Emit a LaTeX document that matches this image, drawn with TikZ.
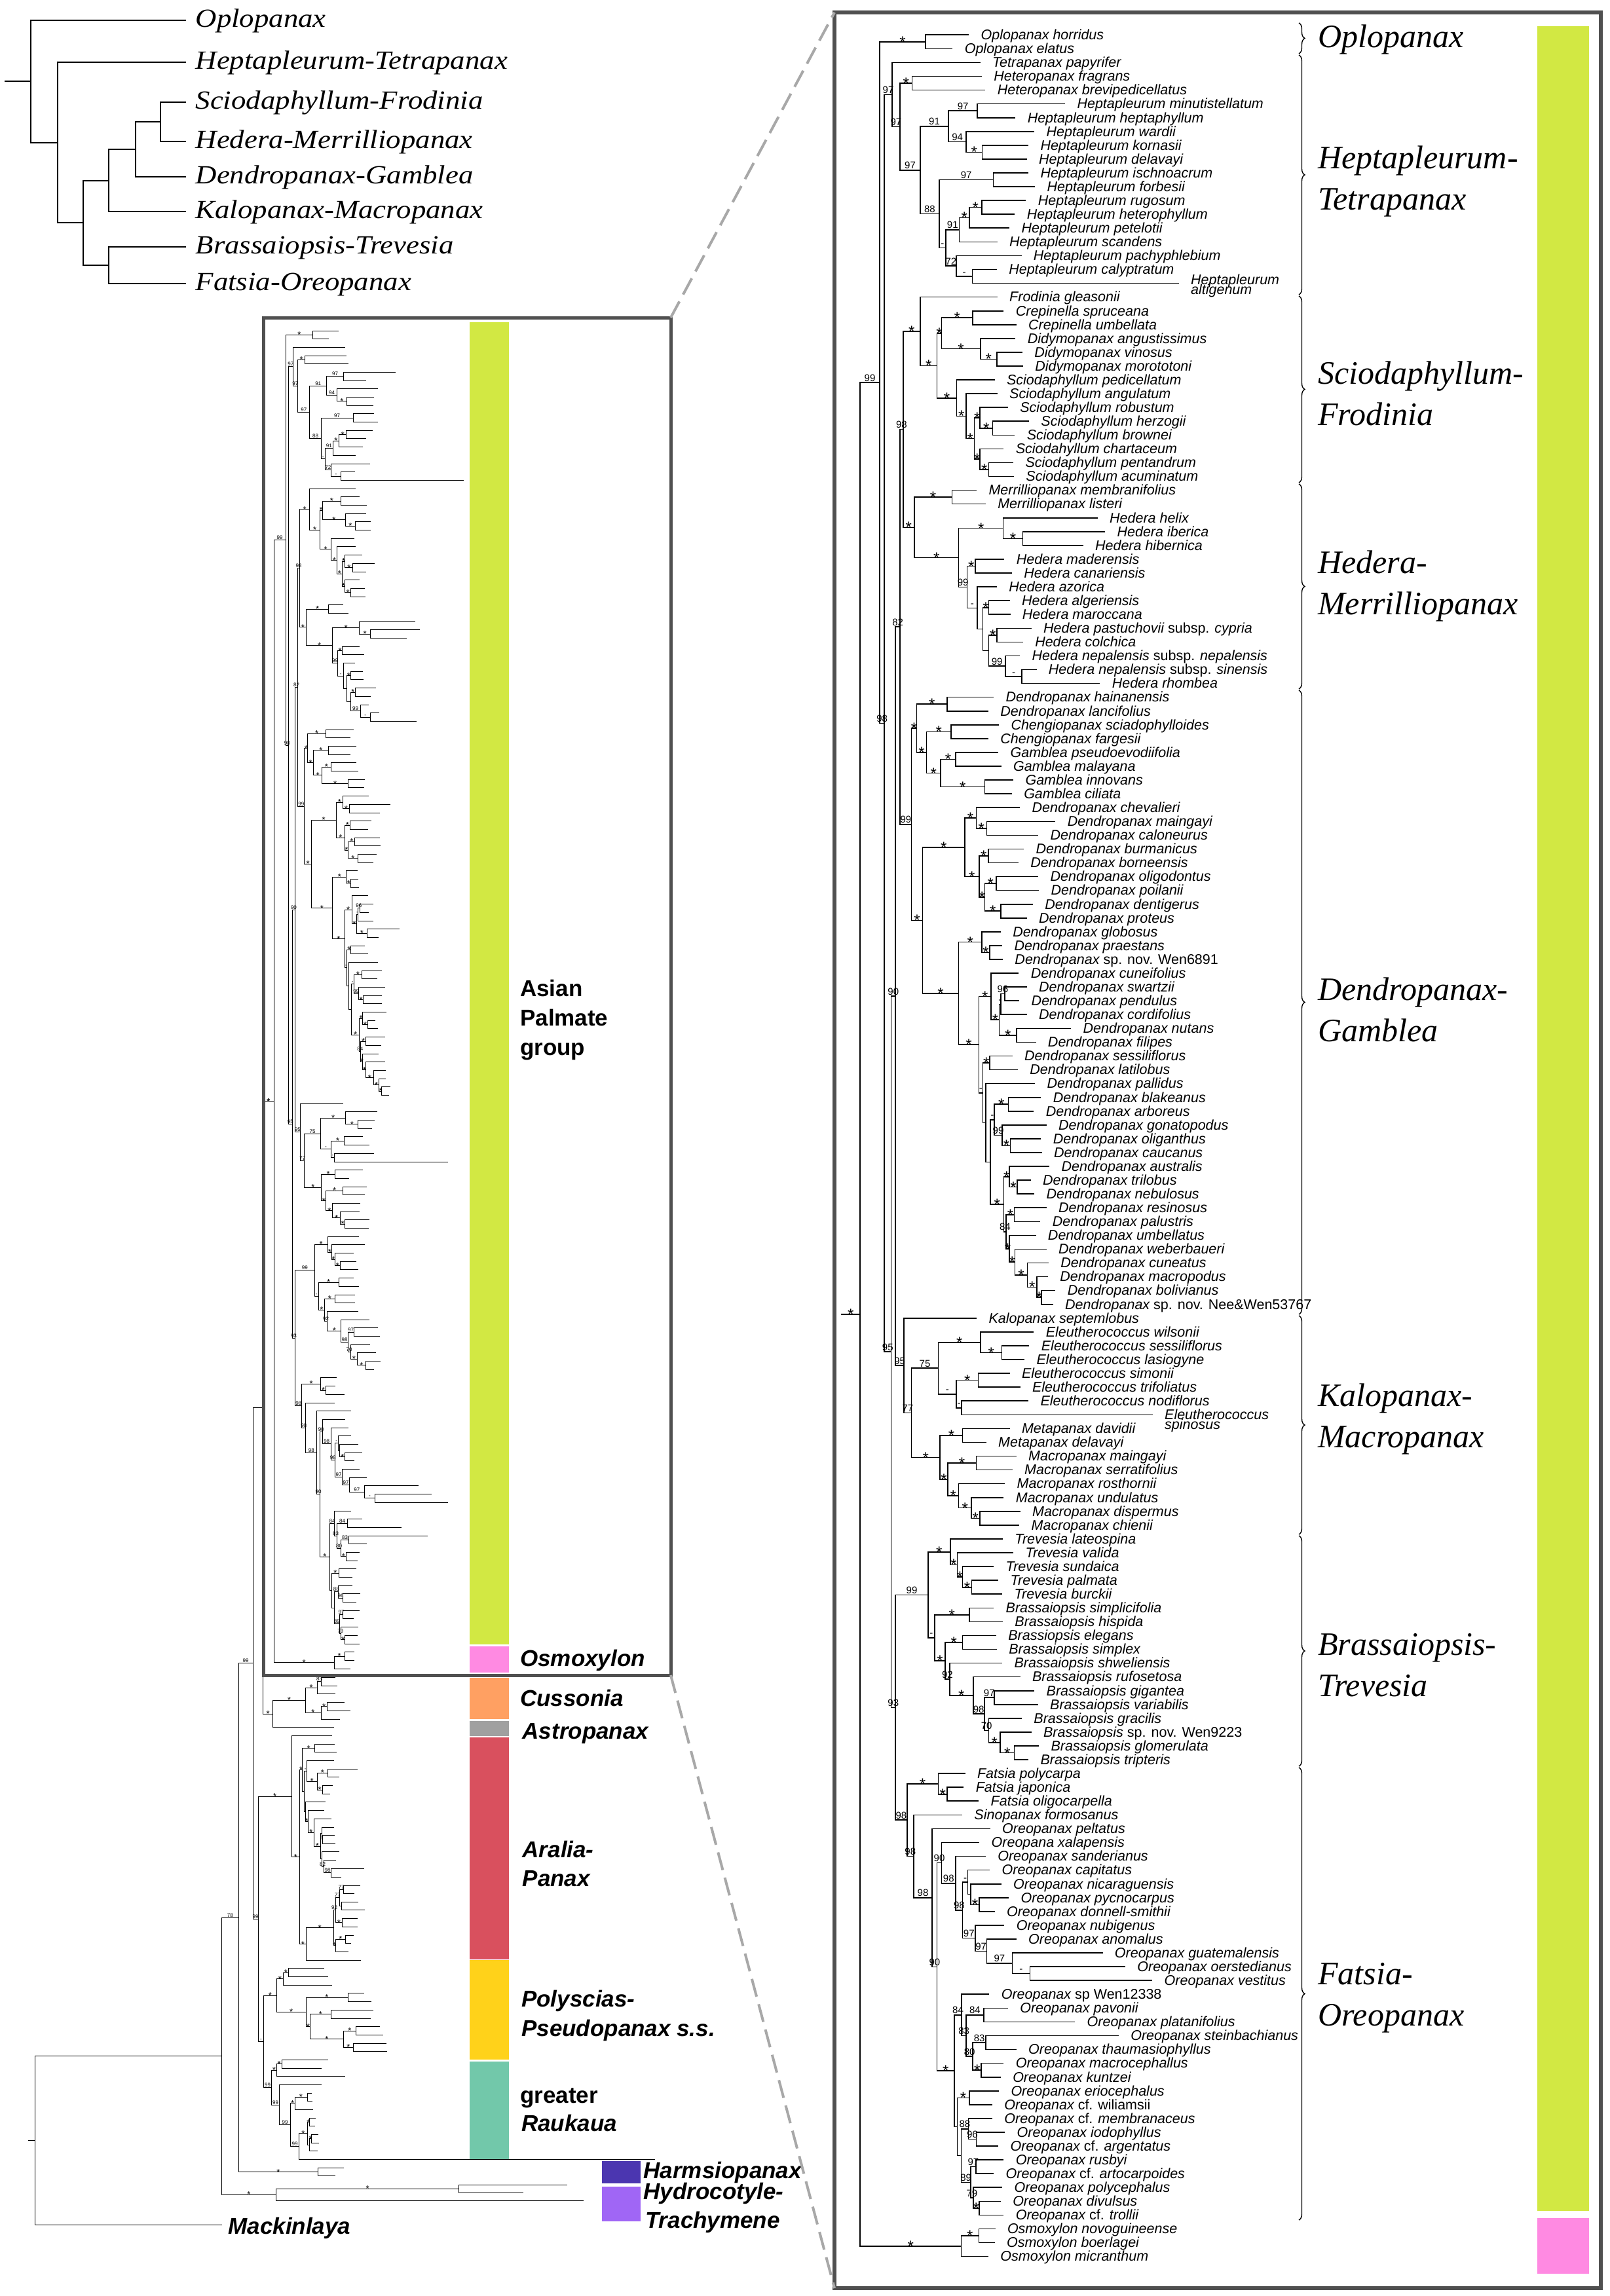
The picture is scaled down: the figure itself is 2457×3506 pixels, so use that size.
\documentclass[tikz,border=0pt]{standalone}
\usepackage{fontspec}
\setmainfont{Liberation Sans}
\newfontfamily\sansf{Liberation Sans}
\newfontfamily\serifw[FakeStretch=1.12]{Liberation Serif}
\newfontfamily\seriff{Liberation Serif}
\usetikzlibrary{calc,decorations.pathreplacing}
\definecolor{cBox}{HTML}{505050}
\definecolor{cDash}{HTML}{A8A8A8}
\definecolor{cLime}{HTML}{D2E843}
\definecolor{cPink}{HTML}{FF8AE2}
\definecolor{cOrange}{HTML}{FFA062}
\definecolor{cGrey}{HTML}{A0A0A0}
\definecolor{cRed}{HTML}{D9505E}
\definecolor{cYellow}{HTML}{FFD21A}
\definecolor{cTeal}{HTML}{72C8AA}
\definecolor{cDPurple}{HTML}{4B36B0}
\definecolor{cLPurple}{HTML}{A066F5}
\newif\iflab
\newcommand\up[1]{{\upshape #1}}
\newcommand\Lf[3]{\coordinate (L#1) at (#2,#1);\iflab\node[tax,yshift=-7.3pt] at (L#1) {#3};\fi}
\newcommand\Lff[6]{\coordinate (L#1) at (#2,#1);\iflab\node[tax,yshift=#5] at (L#1) {#3};\node[tax,yshift=#6] at (L#1) {#4};\fi}
\newcommand\In[3]{%
  \foreach \chn/\lbl [count=\k] in {#3}{\ifnum\k=1 \xdef\firstc{\chn}\fi\xdef\lastc{\chn}}%
  \path ($(\firstc)!0.5!(\lastc)$) coordinate (tmp);%
  \coordinate (#1) at (#2,0 |- tmp);%
  \draw[br] (#1 |- \firstc) -- (#1 |- \lastc);%
  \foreach \chn/\lbl in {#3}{\draw[br] (#1 |- \chn) -- node[sup]{\lbl} (\chn);}%
}
\def\TreeSpec{%
\Lf{1}{432}{Oplopanax horridus}
\Lf{2}{378}{Oplopanax elatus}
\Lf{3}{470}{Tetrapanax papyrifer}
\Lf{4}{475}{Heteropanax fragrans}
\Lf{5}{487}{Heteropanax brevipedicellatus}
\Lf{6}{752}{Heptapleurum minutistellatum}
\Lf{7}{587}{Heptapleurum heptaphyllum}
\Lf{8}{650}{Heptapleurum wardii}
\Lf{9}{630}{Heptapleurum kornasii}
\Lf{10}{625}{Heptapleurum delavayi}
\Lf{11}{630}{Heptapleurum ischnoacrum}
\Lf{12}{652}{Heptapleurum forbesii}
\Lf{13}{622}{Heptapleurum rugosum}
\Lf{14}{585}{Heptapleurum heterophyllum}
\Lf{15}{567}{Heptapleurum petelotii}
\Lf{16}{527}{Heptapleurum scandens}
\Lf{17}{607}{Heptapleurum pachyphlebium}
\Lf{18}{525}{Heptapleurum calyptratum}
\Lff{19}{1130}{Heptapleurum}{altigenum}{-2.4pt}{-17.4pt}
\Lf{20}{527}{Frodinia gleasonii}
\Lf{21}{548}{Crepinella spruceana}
\Lf{22}{590}{Crepinella umbellata}
\Lf{23}{587}{Didymopanax angustissimus}
\Lf{24}{610}{Didymopanax vinosus}
\Lf{25}{612}{Didymopanax morototoni}
\Lf{26}{518}{Sciodaphyllum pedicellatum}
\Lf{27}{527}{Sciodaphyllum angulatum}
\Lf{28}{562}{Sciodaphyllum robustum}
\Lf{29}{632}{Sciodaphyllum herzogii}
\Lf{30}{585}{Sciodaphyllum brownei}
\Lf{31}{548}{Sciodahyllum chartaceum}
\Lf{32}{580}{Sciodaphyllum pentandrum}
\Lf{33}{582}{Sciodaphyllum acuminatum}
\Lf{34}{458}{Merrilliopanax membranifolius}
\Lf{35}{488}{Merrilliopanax listeri}
\Lf{36}{860}{Hedera helix}
\Lf{37}{885}{Hedera iberica}
\Lf{38}{812}{Hedera hibernica}
\Lf{39}{550}{Hedera maderensis}
\Lf{40}{575}{Hedera canariensis}
\Lf{41}{525}{Hedera azorica}
\Lf{42}{568}{Hedera algeriensis}
\Lf{43}{570}{Hedera maroccana}
\Lf{44}{640}{Hedera pastuchovii \up{subsp.} cypria}
\Lf{45}{612}{Hedera colchica}
\Lf{46}{602}{Hedera nepalensis \up{subsp.} nepalensis}
\Lf{47}{657}{Hedera nepalensis \up{subsp.} sinensis}
\Lf{48}{868}{Hedera rhombea}
\Lf{49}{515}{Dendropanax hainanensis}
\Lf{50}{497}{Dendropanax lancifolius}
\Lf{51}{532}{Chengiopanax sciadophylloides}
\Lf{52}{497}{Chengiopanax fargesii}
\Lf{53}{530}{Gamblea pseudoevodiifolia}
\Lf{54}{540}{Gamblea malayana}
\Lf{55}{580}{Gamblea innovans}
\Lf{56}{575}{Gamblea ciliata}
\Lf{57}{602}{Dendropanax chevalieri}
\Lf{58}{720}{Dendropanax maingayi}
\Lf{59}{663}{Dendropanax caloneurus}
\Lf{60}{615}{Dendropanax burmanicus}
\Lf{61}{597}{Dendropanax borneensis}
\Lf{62}{663}{Dendropanax oligodontus}
\Lf{63}{665}{Dendropanax poilanii}
\Lf{64}{645}{Dendropanax dentigerus}
\Lf{65}{625}{Dendropanax proteus}
\Lf{66}{538}{Dendropanax globosus}
\Lf{67}{543}{Dendropanax praestans}
\Lf{68}{545}{Dendropanax \up{sp. nov. Wen6891}}
\Lf{69}{598}{Dendropanax cuneifolius}
\Lf{70}{625}{Dendropanax swartzii}
\Lf{71}{600}{Dendropanax pendulus}
\Lf{72}{625}{Dendropanax cordifolius}
\Lf{73}{772}{Dendropanax nutans}
\Lf{74}{655}{Dendropanax filipes}
\Lf{75}{577}{Dendropanax sessiliflorus}
\Lf{76}{595}{Dendropanax latilobus}
\Lf{77}{652}{Dendropanax pallidus}
\Lf{78}{672}{Dendropanax blakeanus}
\Lf{79}{648}{Dendropanax arboreus}
\Lf{80}{690}{Dendropanax gonatopodus}
\Lf{81}{672}{Dendropanax oliganthus}
\Lf{82}{675}{Dendropanax caucanus}
\Lf{83}{700}{Dendropanax australis}
\Lf{84}{638}{Dendropanax trilobus}
\Lf{85}{650}{Dendropanax nebulosus}
\Lf{86}{690}{Dendropanax resinosus}
\Lf{87}{670}{Dendropanax palustris}
\Lf{88}{655}{Dendropanax umbellatus}
\Lf{89}{690}{Dendropanax weberbaueri}
\Lf{90}{697}{Dendropanax cuneatus}
\Lf{91}{695}{Dendropanax macropodus}
\Lf{92}{720}{Dendropanax bolivianus}
\Lf{93}{712}{Dendropanax \up{sp. nov. Nee\&Wen53767}}
\Lf{94}{458}{Kalopanax septemlobus}
\Lf{95}{648}{Eleutherococcus wilsonii}
\Lf{96}{633}{Eleutherococcus sessiliflorus}
\Lf{97}{617}{Eleutherococcus lasiogyne}
\Lf{98}{568}{Eleutherococcus simonii}
\Lf{99}{603}{Eleutherococcus trifoliatus}
\Lf{100}{630}{Eleutherococcus nodiflorus}
\Lff{101}{1043}{Eleutherococcus}{spinosus}{-7.3pt}{-22.6pt}
\Lf{102}{568}{Metapanax davidii}
\Lf{103}{490}{Metapanax delavayi}
\Lf{104}{590}{Macropanax maingayi}
\Lf{105}{577}{Macropanax serratifolius}
\Lf{106}{552}{Macropanax rosthornii}
\Lf{107}{548}{Macropanax undulatus}
\Lf{108}{603}{Macropanax dispermus}
\Lf{109}{600}{Macropanax chienii}
\Lf{110}{545}{Trevesia lateospina}
\Lf{111}{580}{Trevesia valida}
\Lf{112}{515}{Trevesia sundaica}
\Lf{113}{530}{Trevesia palmata}
\Lf{114}{543}{Trevesia burckii}
\Lf{115}{515}{Brassaiopsis simplicifolia}
\Lf{116}{545}{Brassaiopsis hispida}
\Lf{117}{523}{Brassiopsis elegans}
\Lf{118}{525}{Brassaiopsis simplex}
\Lf{119}{543}{Brassaiopsis shweliensis}
\Lf{120}{603}{Brassaiopsis rufosetosa}
\Lf{121}{650}{Brassaiopsis gigantea}
\Lf{122}{662}{Brassaiopsis variabilis}
\Lf{123}{608}{Brassaiopsis gracilis}
\Lf{124}{640}{Brassaiopsis \up{sp. nov. Wen9223}}
\Lf{125}{665}{Brassaiopsis glomerulata}
\Lf{126}{630}{Brassaiopsis tripteris}
\Lf{127}{420}{Fatsia polycarpa}
\Lf{128}{415}{Fatsia japonica}
\Lf{129}{465}{Fatsia oligocarpella}
\Lf{130}{410}{Sinopanax formosanus}
\Lf{131}{503}{Oreopanax peltatus}
\Lf{132}{467}{Oreopana xalapensis}
\Lf{133}{488}{Oreopanax sanderianus}
\Lf{134}{502}{Oreopanax capitatus}
\Lf{135}{540}{Oreopanax nicaraguensis}
\Lf{136}{565}{Oreopanax pycnocarpus}
\Lf{137}{518}{Oreopanax donnell-smithii}
\Lf{138}{550}{Oreopanax nubigenus}
\Lf{139}{590}{Oreopanax anomalus}
\Lf{140}{877}{Oreopanax guatemalensis}
\Lf{141}{952}{Oreopanax oerstedianus}
\Lf{142}{1042}{Oreopanax vestitus}
\Lf{143}{500}{Oreopanax \up{sp Wen12338}}
\Lf{144}{562}{Oreopanax pavonii}
\Lf{145}{785}{Oreopanax platanifolius}
\Lf{146}{930}{Oreopanax steinbachianus}
\Lf{147}{590}{Oreopanax thaumasiophyllus}
\Lf{148}{548}{Oreopanax macrocephallus}
\Lf{149}{538}{Oreopanax kuntzei}
\Lf{150}{532}{Oreopanax eriocephalus}
\Lf{151}{510}{Oreopanax \up{cf. wiliamsii}}
\Lf{152}{510}{Oreopanax \up{cf.} membranaceus}
\Lf{153}{552}{Oreopanax iodophyllus}
\Lf{154}{530}{Oreopanax \up{cf.} argentatus}
\Lf{155}{548}{Oreopanax rusbyi}
\Lf{156}{515}{Oreopanax \up{cf.} artocarpoides}
\Lf{157}{543}{Oreopanax polycephalus}
\Lf{158}{538}{Oreopanax divulsus}
\Lf{159}{548}{Oreopanax \up{cf.} trollii}
\Lf{160}{520}{Osmoxylon novoguineense}
\Lf{161}{518}{Osmoxylon boerlagei}
\Lf{162}{497}{Osmoxylon micranthum}
\In{Op}{290}{L1/{},L2/{}}
\In{E}{245}{L4/{},L5/{}}
\In{G1}{462}{L6/{},L7/{}}
\In{G3}{478}{L9/{},L10/{}}
\In{G2}{425}{L8/{},G3/\st}
\In{G}{366}{G1/97,G2/94}
\In{H1}{515}{L11/{},L12/{}}
\In{H6}{477}{L13/{},L14/{}}
\In{H5}{435}{H6/\st,L15/{}}
\In{H3}{402}{H5/\st,L16/{}}
\In{H7}{445}{L18/{},L19/{}}
\In{H4}{392}{L17/{},H7/-}
\In{H2}{357}{H3/91,H4/72}
\In{H}{335}{H1/97,H2/-}
\In{F}{272}{G/91,H/88}
\In{D}{205}{E/\st,F/97}
\In{C}{178}{L3/{},D/97}
\In{Cre}{447}{L21/{},L22/{}}
\In{Did2}{527}{L24/{},L25/{}}
\In{Did}{472}{L23/{},Did2/\st}
\In{S2}{343}{Cre/\st,Did/\st}
\In{S8}{513}{L29/{},L30/{}}
\In{S6}{470}{L28/{},S8/\st}
\In{S9}{500}{L32/{},L33/{}}
\In{S7}{470}{L31/{},S9/\st}
\In{S5}{452}{S6/\st,S7/\st}
\In{S4}{425}{L27/{},S5/\st}
\In{S3}{393}{L26/{},S4/\st}
\In{S1}{328}{S2/\st,S3/\st}
\In{SF}{272}{L20/{},S1/\st}
\In{Mer}{378}{L34/{},L35/{}}
\In{Hdb}{613}{L37/{},L38/{}}
\In{Hda}{548}{L36/{},Hdb/\st}
\In{Hdc}{455}{L39/{},L40/{}}
\In{Hdf}{500}{L42/{},L43/{}}
\In{Hdh}{527}{L44/{},L45/{}}
\In{Hdk}{610}{L47/{},L48/{}}
\In{Hdj}{555}{L46/{},Hdk/-}
\In{Hdg}{500}{Hdh/\st,Hdj/99}
\In{Hde}{480}{Hdf/\st,Hdg/{}}
\In{Hdd}{462}{L41/{},Hde/{}}
\In{Hd2}{428}{Hdc/\st,Hdd/-}
\In{Hed}{400}{Hda/\st,Hd2/99}
\In{HM}{252}{Mer/\st,Hed/\st}
\In{Nsh}{215}{SF/\st,HM/\st}
\In{Dha}{362}{L49/{},L50/{}}
\In{Che}{375}{L51/{},L52/{}}
\In{Gp}{390}{L53/{},L54/{}}
\In{Gi}{487}{L55/{},L56/{}}
\In{Dgc}{340}{Gp/\st,Gi/\st}
\In{Dgb}{293}{Che/\st,Dgc/\st}
\In{Dga}{260}{Dha/\st,Dgb/\st}
\In{Dchb}{493}{L58/{},L59/{}}
\In{Dch}{458}{L57/{},Dchb/\st}
\In{Dbua}{498}{L60/{},L61/{}}
\In{Dol}{525}{L62/{},L63/{}}
\In{Dde}{540}{L64/{},L65/{}}
\In{Dbub}{487}{Dol/\st,Dde/\st}
\In{Dbu}{468}{Dbua/\st,Dbub/\st}
\In{Dge}{420}{Dch/\st,Dbu/\st}
\In{Dprb}{503}{L67/{},L68/{}}
\In{Dglo}{477}{L66/{},Dprb/\st}
\In{Dns}{553}{L70/{},L71/{}}
\In{Dcuc}{540}{Dns/96,L72/{}}
\In{Dnu}{592}{L73/{},L74/{}}
\In{Dcub}{535}{Dcuc/-,Dnu/\st}
\In{Dcu}{508}{L69/{},Dcub/\st}
\In{Dsea}{503}{L75/{},L76/{}}
\In{Dbl}{565}{L78/{},L79/{}}
\In{Dolg}{572}{L81/{},L82/{}}
\In{Dgo}{545}{L80/{},Dolg/\st}
\In{DblG}{518}{Dbl/\st,Dgo/99}
\In{Dtri}{595}{L84/{},L85/{}}
\In{Daua}{568}{L83/{},Dtri/\st}
\In{Drea}{585}{L86/{},L87/{}}
\In{Dbo}{675}{L92/{},L93/{}}
\In{Dma}{660}{L91/{},Dbo/\st}
\In{Dcun}{628}{L90/{},Dma/\st}
\In{Dwe}{587}{L89/{},Dcun/\st}
\In{Dum}{568}{L88/{},Dwe/\st}
\In{Dre}{558}{Drea/\st,Dum/\st}
\In{Dau}{550}{Daua/\st,Dre/84}
\In{Dpb}{505}{DblG/-,Dau/\st}
\In{Dpa}{490}{L77/{},Dpb/{}}
\In{Dse}{480}{Dsea/\st,Dpa/{}}
\In{Dgg}{467}{Dcu/\st,Dse/-}
\In{Dgf}{400}{Dglo/\st,Dgg/\st}
\In{Dgd}{280}{Dge/\st,Dgf/\st}
\In{Nnn}{243}{Dga/\st,Dgd/\st}
\In{Nei}{205}{Nsh/98,Nnn/99}
\In{Ewb}{543}{L96/{},L97/{}}
\In{Ew}{473}{L95/{},Ewb/\st}
\In{Esa}{465}{L98/{},L99/{}}
\In{Eno}{410}{L100/{},L101/{}}
\In{Esi}{392}{Esa/\st,Eno/-}
\In{Nsf}{332}{Ew/\st,Esi/-}
\In{Meta}{413}{L102/{},L103/{}}
\In{Mab}{458}{L104/{},L105/{}}
\In{Mae}{470}{L108/{},L109/{}}
\In{Mad}{442}{L107/{},Mae/\st}
\In{Mac}{400}{L106/{},Mad/\st}
\In{Maa}{363}{Mab/\st,Mac/\st}
\In{MM}{338}{Meta/\st,Maa/\st}
\In{Nss}{243}{Nsf/75,MM/\st}
\In{Nk}{218}{L94/{},Nss/77}
\In{Nni}{190}{Nei/82,Nk/95}
\In{Trd}{443}{L113/{},L114/{}}
\In{Trc}{413}{L112/{},Trd/\st}
\In{Trb}{395}{L111/{},Trc/\st}
\In{Tra}{372}{L110/{},Trb/\st}
\In{Bsi}{435}{L115/{},L116/{}}
\In{Bela}{413}{L117/{},L118/{}}
\In{Bng}{518}{L121/{},L122/{}}
\In{Bfo}{585}{L125/{},L126/{}}
\In{Bth}{538}{L124/{},Bfo/\st}
\In{Bsv}{500}{L123/{},Bth/\st}
\In{Bne}{485}{Bng/97,Bsv/70}
\In{Btw}{448}{L120/{},Bne/98}
\In{Bnt}{370}{L119/{},Btw/\st}
\In{Bel}{355}{Bela/\st,Bnt/92}
\In{Br}{320}{Bsi/\st,Bel/\st}
\In{BT}{298}{Tra/\st,Br/-}
\In{Fja}{362}{L128/{},L129/{}}
\In{Fat}{332}{L127/{},Fja/\st}
\In{Fcpy}{468}{L136/{},L137/{}}
\In{Fnic}{440}{L135/{},Fcpy/\st}
\In{Fcap}{430}{L134/{},Fnic/{}}
\In{Foe}{637}{L141/{},L142/{}}
\In{Fnc}{578}{L140/{},Foe/-}
\In{Fnb}{493}{L139/{},Fnc/97}
\In{Fna}{455}{L138/{},Fnb/97}
\In{Fne}{413}{Fcap/-,Fna/97}
\In{Fnd}{390}{L133/{},Fne/98}
\In{Fxb}{343}{L132/{},Fnd/98}
\In{Opav}{483}{L144/{},L145/{}}
\In{Oeb}{490}{L146/{},L147/{}}
\In{Omac}{475}{L148/{},L149/{}}
\In{Oei}{447}{Oeb/83,Omac/\st}
\In{Oet}{425}{Opav/84,Oei/80}
\In{Oef}{410}{L143/{},Oet/83}
\In{Oer}{435}{L150/{},L151/{}}
\In{Ons}{458}{L153/{},L154/{}}
\In{Oee}{432}{L152/{},Ons/96}
\In{Ose}{457}{L155/{},L156/{}}
\In{Odiv}{468}{L158/{},L159/{}}
\In{Osn}{448}{L157/{},Odiv/\st}
\In{One}{440}{Ose/97,Osn/79}
\In{Ocd}{408}{Oee/88,One/89}
\In{Occ}{395}{Oer/\st,Ocd/{}}
\In{Oc}{385}{Oef/84,Occ/{}}
\In{Fni}{328}{Fxb/90,Oc/\st}
\In{Fnh}{312}{L131/{},Fni/90}
\In{Fng}{250}{L130/{},Fnh/98}
\In{FO}{228}{Fat/\st,Fng/98}
\In{Nnt}{190}{BT/99,FO/98}
\In{Nnf}{175}{Nni/90,Nnt/93}
\In{Bb}{153}{C/97,Nnf/95}
\In{Aa}{137}{Op/\st,Bb/98}
\In{Osb}{467}{L160/{},L161/{}}
\In{Osm}{408}{Osb/\st,L162/{}}
\In{R}{72}{Aa/99,Osm/\st}
\coordinate (stem) at (10,0 |- R);
\draw[br] (stem) -- node[sup]{\st} (R);
}
\begin{document}
\begin{tikzpicture}[x=1pt,y=-1pt,
  br/.style={line width=1.6pt,line cap=rect},
  sup/.style={font=\sansf\fontsize{15}{15}\selectfont,anchor=base,yshift=2pt,inner sep=0},
  tax/.style={anchor=base west,inner sep=0,xshift=19pt,font=\sansf\itshape\fontsize{21.5}{21.5}\selectfont},
  clade/.style={anchor=base west,inner sep=0,align=left,font=\seriff\itshape\fontsize{50}{63}\selectfont},
  tclade/.style={anchor=base west,inner sep=0,font=\serifw\itshape\fontsize{40}{40}\selectfont},
  grp/.style={anchor=base west,inner sep=0,font=\sansf\bfseries\itshape\fontsize{35}{35}\selectfont},
  grpu/.style={anchor=base west,inner sep=0,font=\sansf\bfseries\fontsize{35}{35}\selectfont},
  brc/.style={decorate,decoration={brace,amplitude=9pt},line width=1.4pt},
  dashln/.style={cDash,line width=4pt,dash pattern=on 28pt off 12pt}]
\fill[white] (0,0) rectangle (2457,3506);
\useasboundingbox (0,0) rectangle (2457,3506);
% ---------- top-left cladogram ----------
\begin{scope}[br/.style={line width=2pt,line cap=rect}]
\coordinate (tOp) at (283.2,30.7);
\coordinate (tHe) at (283.2,95);
\coordinate (tSc) at (283.2,155.7);
\coordinate (tHd) at (283.2,216);
\coordinate (tDe) at (283.2,270);
\coordinate (tKa) at (283.2,323.3);
\coordinate (tBr) at (283.2,376.7);
\coordinate (tFa) at (283.2,433.3);
\In{tn6}{244.9}{tSc/{},tHd/{}}
\In{tn5}{206.6}{tn6/{},tDe/{}}
\In{tn4}{165.8}{tn5/{},tKa/{}}
\In{tn7}{165.8}{tBr/{},tFa/{}}
\In{tn3}{126.5}{tn4/{},tn7/{}}
\In{tn2}{88.3}{tHe/{},tn3/{}}
\In{tn1}{47.4}{tOp/{},tn2/{}}
\coordinate (tstem) at (7.7,0 |- tn1);
\draw[br] (tstem) -- (tn1);
\node[tclade] (tl1) at (298.5,41.2) {Oplopanax};
\node[tclade] (tl2) at (298.5,105.5) {Heptapleurum-Tetrapanax};
\node[tclade] (tl3) at (298.5,166.2) {Sciodaphyllum-Frodinia};
\node[tclade] (tl4) at (298.5,226.5) {Hedera-Merrilliopanax};
\node[tclade] (tl5) at (298.5,280.5) {Dendropanax-Gamblea};
\node[tclade] (tl6) at (298.5,333.8) {Kalopanax-Macropanax};
\node[tclade] (tl7) at (298.5,387.2) {Brassaiopsis-Trevesia};
\node[tclade] (tl8) at (298.5,443.8) {Fatsia-Oreopanax};
\end{scope}
% ---------- right detailed tree ----------
\begin{scope}[shift={(1280,32.23)},x=0.4592pt,y=-21.07pt]
\labtrue
\def\st{\raisebox{-10.5pt}{\fontsize{24}{24}\selectfont *}}
\TreeSpec
\end{scope}
% ---------- left small copy ----------
\begin{scope}[shift={(398.644,492.31)},x=0.273pt,y=-12.69pt,
  br/.style={line width=1pt,line cap=rect},
  sup/.style={font=\sansf\fontsize{8}{8}\selectfont,anchor=base,yshift=1pt,inner sep=0}]
\labfalse
\def\st{\raisebox{-5.5pt}{\fontsize{13}{13}\selectfont *}}
\TreeSpec
\end{scope}
% ---------- left lower tree ----------
\begin{scope}[br/.style={line width=1pt,line cap=rect},
  sup/.style={font=\sansf\fontsize{8}{8}\selectfont,anchor=base,yshift=1pt,inner sep=0}]
\def\st{\raisebox{-5.5pt}{\fontsize{13}{13}\selectfont *}}
\coordinate (c1) at (511.7,2561.7);
\coordinate (c2) at (514,2574);
\coordinate (c3) at (511.7,2586.7);
\coordinate (c4) at (525,2599.3);
\coordinate (c5) at (534.3,2612.3);
\coordinate (c6) at (518.3,2625);
\coordinate (ast) at (509,2637.7);
\In{C2a}{490.7}{c1/{},c2/{}}
\In{C2}{484.3}{C2a/83,c3/{}}
\In{C3a}{499.3}{c4/{},c5/{}}
\In{C3}{490}{C3a/\st,c6/{}}
\In{Cc1}{466}{C2/\st,C3/\st}
\In{C0}{416.7}{Cc1/\st,ast/{}}
\In{Xn}{401.7}{R/\st,C0/\st}
\coordinate (a1) at (506.7,2650.7);
\coordinate (a2) at (510,2663.3);
\coordinate (a3) at (513.3,2675.7);
\coordinate (a4) at (509,2688.3);
\coordinate (a5) at (545,2701);
\coordinate (a6) at (517.3,2713.3);
\coordinate (a7) at (507.3,2726.7);
\coordinate (a8) at (503.3,2739.3);
\coordinate (a9) at (496.7,2751.7);
\coordinate (a10) at (494,2764.3);
\coordinate (a11) at (505,2777.3);
\coordinate (a12) at (509.3,2790);
\coordinate (a13) at (510,2802.7);
\coordinate (a14) at (511,2815);
\coordinate (a15) at (517.7,2827.7);
\coordinate (a16) at (512.7,2840.7);
\coordinate (a17) at (555,2853.3);
\coordinate (a18) at (520,2866);
\In{APf}{500.7}{a5/{},a6/{}}
\In{APg}{492.3}{a7/{},a8/{}}
\In{APe}{484}{APf/\st,APg/\st}
\In{APc}{468.3}{a4/{},APe/\st}
\In{APk2}{492.3}{a13/{},a14/{}}
\In{APk}{491}{a12/{},APk2/-}
\In{APp}{505.7}{a17/{},a18/{}}
\In{APo}{494.3}{a16/{},APp/98}
\In{APl}{491}{a15/{},APo/82}
\In{APj}{489.3}{APk/{},APl/{}}
\In{APi}{479.3}{a11/{},APj/\st}
\In{APh}{470.7}{a10/{},APi/\st}
\In{APd}{466}{a9/{},APh/\st}
\In{APb}{464.3}{APc/-,APd/{}}
\In{APa}{480.7}{a2/{},a3/{}}
\In{APz}{461.7}{APa/\st,APb/{}}
\coordinate (b1) at (549.3,2879);
\coordinate (b2) at (540.7,2891);
\coordinate (b3) at (546,2904);
\coordinate (b4) at (556,2916.7);
\coordinate (b5) at (545,2929.3);
\coordinate (b6) at (545,2942.3);
\coordinate (b7) at (539,2955);
\coordinate (b8) at (535,2967.3);
\coordinate (b9) at (531.7,2980.7);
\coordinate (b10) at (550,2993.3);
\In{AP5c}{524}{b1/{},b2/{}}
\In{AP5d}{521}{b3/{},b4/{}}
\In{AP5a}{518.3}{AP5c/77,AP5d/{}}
\In{AP5b}{522.3}{b5/{},b6/{}}
\In{AP5}{512.3}{AP5a/77,AP5b/\st}
\In{AP6a}{527.3}{b7/{},b8/{}}
\In{AP6}{512.3}{AP6a/\st,b9/{}}
\In{AP4}{509}{AP5/92,AP6/\st}
\In{AP3}{467.3}{AP4/\st,b10/{}}
\In{AP1}{457.7}{APz/\st,AP3/\st}
\In{AP}{445}{a1/{},AP1/\st}
\coordinate (p1) at (494,3005.7);
\coordinate (p2) at (500.7,3018.3);
\coordinate (p3) at (506.7,3031);
\coordinate (p4) at (555,3043.7);
\coordinate (p5) at (566.7,3056.7);
\coordinate (p6) at (569.3,3069.3);
\coordinate (p7) at (565,3082);
\coordinate (p8) at (579,3094.7);
\coordinate (p9) at (584.3,3107.3);
\coordinate (p10) at (589,3120);
\coordinate (p11) at (590,3132.7);
\In{P1a}{440.3}{p1/{},p2/{}}
\In{P1}{432.3}{P1a/\st,p3/{}}
\In{P2a}{531}{p4/{},p5/{}}
\In{P2c}{505.3}{p6/{},p7/{}}
\In{P2e}{543.7}{p8/{},p9/{}}
\In{P2f}{539.3}{p10/{},p11/{}}
\In{P2d}{524.3}{P2e/\st,P2f/\st}
\In{P2b}{473.7}{P2c/\st,P2d/\st}
\In{P2}{467}{P2a/\st,P2b/\st}
\In{Poly}{422.3}{P1/\st,P2/\st}
\coordinate (r1) at (500.7,3145.3);
\coordinate (r2) at (490.7,3158);
\coordinate (r3) at (526,3170.7);
\coordinate (r4) at (490,3183.3);
\coordinate (r5) at (475.7,3196);
\coordinate (r6) at (476.7,3208.7);
\coordinate (r7) at (477.7,3221);
\coordinate (r8) at (481,3234.3);
\coordinate (r9) at (480,3246.7);
\coordinate (r10) at (485,3259.3);
\coordinate (r11) at (486,3272);
\coordinate (r12) at (484,3284.7);
\coordinate (r13) at (999,3297.3);
\In{R1a}{430}{r1/{},r2/{}}
\In{Ra1}{422.3}{R1a/\st,r3/{}}
\In{R3b}{469}{r5/{},r6/{}}
\In{R3a}{450}{R3b/\st,r7/{}}
\In{R5a}{472.7}{r8/{},r9/{}}
\In{R5c}{475.7}{r10/{},r11/{}}
\In{R5b}{472.7}{R5c/\st,r12/{}}
\In{R5}{469.3}{R5a/\st,R5b/{}}
\In{R4}{456.7}{R5/\st,r13/{}}
\In{R3}{443.3}{R3a/\st,R4/99}
\In{R2}{426.7}{r4/{},R3/99}
\In{Rauk}{414.3}{Ra1/\st,R2/99}
\In{PR}{402.7}{Poly/\st,Rauk/99}
\In{N99b}{394.3}{AP/\st,PR/-}
\In{N99L}{386}{Xn/{},N99b/99}
\coordinate (h1) at (524.3,3310.7);
\coordinate (h2) at (511,3322.7);
\In{Harm}{485.7}{h1/{},h2/{}}
\In{Na}{364.3}{N99L/99,Harm/\st}
\coordinate (y1) at (865,3336);
\coordinate (y2) at (798,3348.3);
\coordinate (y3) at (890,3360.7);
\In{H1y}{700.7}{y1/{},y2/{}}
\In{Hy}{421.7}{H1y/\st,y3/{}}
\In{N78}{338.3}{Na/78,Hy/\st}
\coordinate (mack) at (338.3,3397);
\In{Root}{53.9}{N78/{},mack/{}}
\coordinate (rstem) at (43,0 |- Root);
\draw[br] (rstem) -- (Root);
\end{scope}
% ---------- colour bars ----------
\fill[cLime] (717,492) rectangle (777,2510.6);
\fill[cPink] (717,2514) rectangle (777,2554);
\fill[cOrange] (717,2561.7) rectangle (777,2625);
\fill[cGrey] (717,2627.7) rectangle (777,2650.7);
\fill[cRed] (717,2653) rectangle (777,2991.7);
\fill[cYellow] (717,2993.3) rectangle (777,3145);
\fill[cTeal] (717,3148.3) rectangle (777,3297.3);
\fill[cDPurple] (918.5,3300) rectangle (978,3333.7);
\fill[cLPurple] (918.5,3339) rectangle (978,3391.5);
\fill[cLime] (2347,40) rectangle (2426,3376);
\fill[cPink] (2347,3387) rectangle (2426,3472);
% ---------- group labels ----------
\node[grpu] (g1) at (794,1521.5) {Asian};
\node[grpu] (g2) at (794,1566.5) {Palmate};
\node[grpu] (g3) at (794,1611.5) {group};
\node[grp] (g4) at (794,2544.5) {Osmoxylon};
\node[grp] (g5) at (794,2605.5) {Cussonia};
\node[grp] (g6) at (797.5,2655.5) {Astropanax};
\node[grp] (g7) at (797.5,2836.5) {Aralia-};
\node[grp] (g8) at (797.5,2880) {Panax};
\node[grp] (g9) at (796,3064) {Polyscias-};
\node[grp] (g10) at (796,3109) {Pseudopanax s.s.};
\node[grpu] (g11) at (794,3211.5) {greater};
\node[grp] (g12) at (796,3254) {Raukaua};
\node[grp] (g13) at (982.4,3326) {Harmsiopanax};
\node[grp] (g14) at (982.4,3358) {Hydrocotyle-};
\node[grp] (g15) at (985,3402) {Trachymene};
\node[grp] (g16) at (348.3,3411.7) {Mackinlaya};
% ---------- boxes and dashed connectors ----------
\node[draw=cBox,line width=5pt,minimum width=622pt,minimum height=2073pt,inner sep=0,outer sep=0] (lbox) at (713,1521.5) {};
\node[draw=cBox,line width=6pt,minimum width=1170pt,minimum height=3475pt,inner sep=0,outer sep=0] (rbox) at (1859,1756.5) {};
\draw[dashln] (lbox.north east) -- (rbox.north west);
\draw[dashln] (lbox.south east) -- (rbox.south west);
% ---------- braces and clade names ----------
\draw[brc] (1983,35) -- (1983,82);
\draw[brc] (1983,84) -- (1983,450);
\draw[brc] (1983,452) -- (1983,737);
\draw[brc] (1983,739) -- (1983,1052);
\draw[brc] (1983,1054) -- (1983,2007);
\draw[brc] (1983,2009) -- (1983,2343);
\draw[brc] (1983,2345) -- (1983,2697);
\draw[brc] (1983,2699) -- (1983,3390);
\node[clade] (k1) at (2012,72.5) {Oplopanax};
\node[clade] (k2) at (2012,320.5) {Heptapleurum-\\Tetrapanax};
\node[clade] (k3) at (2012,649.5) {Sciodaphyllum-\\Frodinia};
\node[clade] (k4) at (2012,938.5) {Hedera-\\Merrilliopanax};
\node[clade] (k5) at (2012,1590.5) {Dendropanax-\\Gamblea};
\node[clade] (k6) at (2012,2210.5) {Kalopanax-\\Macropanax};
\node[clade] (k7) at (2012,2590.5) {Brassaiopsis-\\Trevesia};
\node[clade] (k8) at (2012,3093.5) {Fatsia-\\Oreopanax};
\end{tikzpicture}
\end{document}
